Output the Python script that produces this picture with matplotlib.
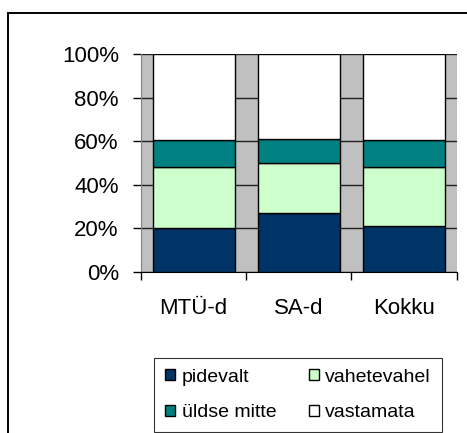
"""Stacked 100% bar chart: pidevalt / vahetevahel / üldse mitte / vastamata."""
import matplotlib
matplotlib.use('Agg')
import matplotlib.pyplot as plt
import matplotlib.patches as mpatches
import numpy as np

plt.rcParams['font.family'] = ['Liberation Sans', 'DejaVu Sans']

# Data (percent)
categories = ['MTÜ-d', 'SA-d', 'Kokku']
pidevalt = [20, 27, 21]
vahetevahel = [28, 23, 27]
uldse_mitte = [12.4, 11, 12.4]
vastamata = [39.6, 39, 39.6]
series_names = ['pidevalt', 'vahetevahel', 'üldse mitte', 'vastamata']
series_colors = ['#003366', '#CCFFCC', '#008080', '#FFFFFF']
yticks = [0, 20, 40, 60, 80, 100]

fig = plt.figure(figsize=(4.67, 4.33), dpi=100)
ax = fig.add_axes([0.302, 0.3725, 0.676, 0.502])
ax.set_facecolor('#C0C0C0')

x = np.arange(len(categories))
bottom = np.zeros(len(categories))
bars = []
for vals, name, col in zip([pidevalt, vahetevahel, uldse_mitte, vastamata],
                           series_names, series_colors):
    b = ax.bar(x, vals, width=0.78, bottom=bottom, color=col, edgecolor='black',
               linewidth=1.0, label=name, zorder=3)
    bars.append(b)
    bottom += np.array(vals)

ax.set_xlim(-0.5, len(categories) - 0.5)
ax.set_ylim(0, 100)
ax.set_yticks(yticks)
ax.set_yticklabels([f'{v}%' for v in yticks])
ax.yaxis.grid(True, color='#202020', linewidth=1.0, zorder=1)
ax.set_axisbelow(True)

ax.set_xticks(x)
ax.set_xticklabels(categories)
ax.set_xticks(np.arange(len(categories) + 1) - 0.5, minor=True)
ax.tick_params(axis='x', which='major', length=0, pad=19, labelsize=16)
ax.tick_params(axis='x', which='minor', length=6, width=1, direction='out', color='black')
ax.tick_params(axis='y', length=6, width=1, direction='out', pad=10, labelsize=16, color='black')

for s in ['top', 'right']:
    ax.spines[s].set_visible(False)
ax.spines['left'].set_color('#808080')
ax.spines['bottom'].set_color('black')

# Legend: row 1 pidevalt / vahetevahel, row 2 üldse mitte / vastamata
handles = [bars[0], bars[2], bars[1], bars[3]]
labels = [series_names[0], series_names[2], series_names[1], series_names[3]]
leg = fig.legend(handles, labels, loc='lower left',
                 bbox_to_anchor=(154.3 / 467, 1 - 431.7 / 433, 287.4 / 467, 79.4 / 433),
                 mode='expand', ncol=2, fontsize=14, frameon=True, fancybox=False,
                 handlelength=0.5, handleheight=0.5, handletextpad=0.35,
                 labelspacing=0.95, borderpad=0.55, borderaxespad=0, columnspacing=0.8)
leg.get_frame().set_edgecolor('black')
leg.get_frame().set_linewidth(0.8)

# Outer chart frame (extends past right and bottom edge)
fig.patches.append(mpatches.Rectangle((8 / 467, -0.1), 1.2, 0.1 + 1 - 13 / 433,
                                      transform=fig.transFigure, fill=False,
                                      edgecolor='black', linewidth=1.4))

plt.savefig('out.png', dpi=100, facecolor='white')
